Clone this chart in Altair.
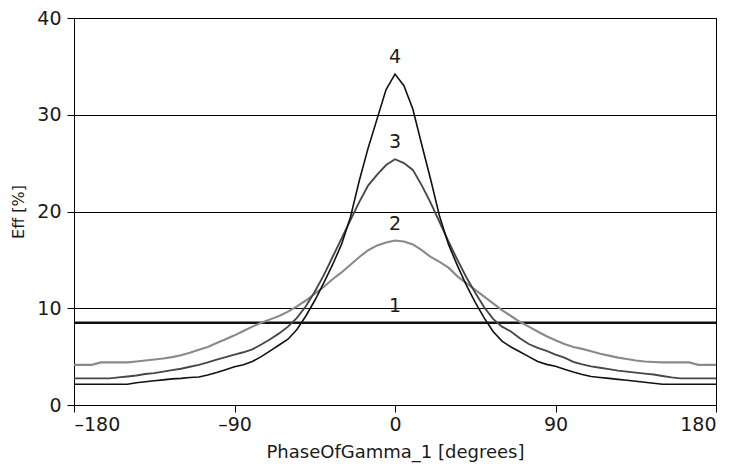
import altair as alt
import pandas as pd

phase = [-180, -175, -170, -165, -160, -155, -150, -145, -140, -135, -130, -125,
         -120, -115, -110, -105, -100, -95, -90, -85, -80, -75, -70, -65,
         -60, -55, -50, -45, -40, -35, -30, -25, -20, -15, -10, -5,
         0, 5, 10, 15, 20, 25, 30, 35, 40, 45, 50, 55,
         60, 65, 70, 75, 80, 85, 90, 95, 100, 105, 110, 115,
         120, 125, 130, 135, 140, 145, 150, 155, 160, 165, 170, 175, 180]

eff_2 = [4.15, 4.15, 4.15, 4.4, 4.4, 4.4, 4.4, 4.5, 4.6, 4.7, 4.8, 4.95,
         5.15, 5.4, 5.7, 6.0, 6.4, 6.8, 7.2, 7.65, 8.1, 8.5, 8.85, 9.2,
         9.65, 10.2, 10.8, 11.5, 12.2, 13.0, 13.7, 14.5, 15.3, 16.0, 16.5, 16.8,
         17.0, 16.9, 16.6, 16.0, 15.3, 14.8, 14.2, 13.3, 12.6, 11.9, 11.2, 10.5,
         9.8, 9.2, 8.6, 8.1, 7.6, 7.1, 6.7, 6.3, 6.0, 5.8, 5.55, 5.3,
         5.1, 4.9, 4.75, 4.6, 4.5, 4.45, 4.4, 4.4, 4.4, 4.4, 4.15, 4.15, 4.15]

eff_3 = [2.75, 2.75, 2.75, 2.75, 2.75, 2.85, 2.95, 3.05, 3.2, 3.3, 3.45, 3.6,
         3.75, 3.95, 4.15, 4.4, 4.7, 4.95, 5.2, 5.45, 5.75, 6.25, 6.8, 7.4,
         8.1, 9.0, 10.2, 11.7, 13.4, 15.3, 17.2, 19.1, 21.0, 22.7, 23.8, 24.8,
         25.4, 25.0, 24.3, 22.7, 20.9, 18.9, 16.9, 15.0, 13.2, 11.6, 10.1, 8.9,
         8.1, 7.6, 6.9, 6.3, 5.9, 5.6, 5.2, 4.9, 4.45, 4.2, 4.0, 3.85,
         3.7, 3.55, 3.45, 3.35, 3.25, 3.15, 3.0, 2.85, 2.75, 2.75, 2.75, 2.75, 2.75]

eff_4 = [2.15, 2.15, 2.15, 2.15, 2.15, 2.15, 2.15, 2.3, 2.4, 2.5, 2.6, 2.7,
         2.75, 2.85, 2.9, 3.1, 3.35, 3.65, 3.95, 4.15, 4.5, 5.0, 5.6, 6.2,
         6.8, 7.8, 9.2, 10.8, 12.6, 14.5, 16.6, 19.4, 23.2, 26.6, 29.6, 32.6,
         34.2, 33.0, 30.6, 26.9, 23.3, 19.5, 16.6, 14.4, 12.4, 10.6, 9.0, 7.6,
         6.6, 6.0, 5.5, 5.0, 4.5, 4.2, 4.0, 3.7, 3.4, 3.15, 2.95, 2.85,
         2.75, 2.65, 2.55, 2.45, 2.35, 2.25, 2.15, 2.15, 2.15, 2.15, 2.15, 2.15, 2.15]

phase_1 = [-180, 180]
eff_1 = [8.5, 8.5]

series_names = ["1", "2", "3", "4"]
series_colors = ["#111111", "#8a8a8a", "#474747", "#111111"]
series_widths = [2.4, 1.6, 1.6, 1.6]
x_ticks = [-180, -90, 0, 90, 180]
y_ticks = [0, 10, 20, 30, 40]

rows = []
for name, xs, ys in [("1", phase_1, eff_1), ("2", phase, eff_2),
                     ("3", phase, eff_3), ("4", phase, eff_4)]:
    for xv, yv in zip(xs, ys):
        rows.append({"series": name, "phase": xv, "eff": yv})
df = pd.DataFrame(rows)

labels_df = pd.DataFrame({
    "series": series_names,
    "phase": [0, 0, 0, 0],
    "eff": [max(eff_1), max(eff_2), max(eff_3), max(eff_4)],
})

FONT = "DejaVu Sans"

x_enc = alt.X(
    "phase:Q",
    scale=alt.Scale(domain=[-180, 180], nice=False, zero=False),
    axis=alt.Axis(
        values=x_ticks,
        title="PhaseOfGamma_1 [degrees]",
        labelExpr="replace(replace(datum.label, '\u2212', '\u2013'), '-', '\u2013')",
        grid=False,
        labelPadding=3,
        titlePadding=9,
        titleFontSize=18,
    ),
)
y_enc = alt.Y(
    "eff:Q",
    scale=alt.Scale(domain=[0, 40], nice=False),
    axis=alt.Axis(
        values=y_ticks,
        title="Eff [%]",
        grid=True,
        gridColor="#000000",
        gridWidth=1,
        labelPadding=6,
        titlePadding=10,
        titleFontSize=16,
    ),
)

lines = alt.Chart(df).mark_line(interpolate="linear").encode(
    x=x_enc,
    y=y_enc,
    color=alt.Color("series:N", scale=alt.Scale(domain=series_names, range=series_colors), legend=None),
    strokeWidth=alt.StrokeWidth("series:N", scale=alt.Scale(domain=series_names, range=series_widths), legend=None),
    detail="series:N",
)

labels = alt.Chart(labels_df).mark_text(
    font=FONT, fontSize=19, baseline="bottom", align="center", dy=-7, color="#1a1a1a"
).encode(
    x="phase:Q",
    y="eff:Q",
    text="series:N",
)

chart = (
    alt.layer(lines, labels)
    .properties(
        width=642,
        height=387,
        autosize=alt.AutoSizeParams(type="none"),
        padding={"left": 66, "top": 10, "right": 10, "bottom": 61},
        background="white",
    )
    .configure_view(stroke="#000000", strokeWidth=1)
    .configure_axis(
        domainColor="#000000",
        tickColor="#000000",
        tickSize=7,
        labelFont=FONT,
        titleFont=FONT,
        labelFontSize=19,
        titleFontSize=19,
        labelColor="#1a1a1a",
        titleColor="#1a1a1a",
        titleFontWeight="normal",
    )
)

chart.save("out.html", embed_options={"renderer": "svg", "actions": False})
